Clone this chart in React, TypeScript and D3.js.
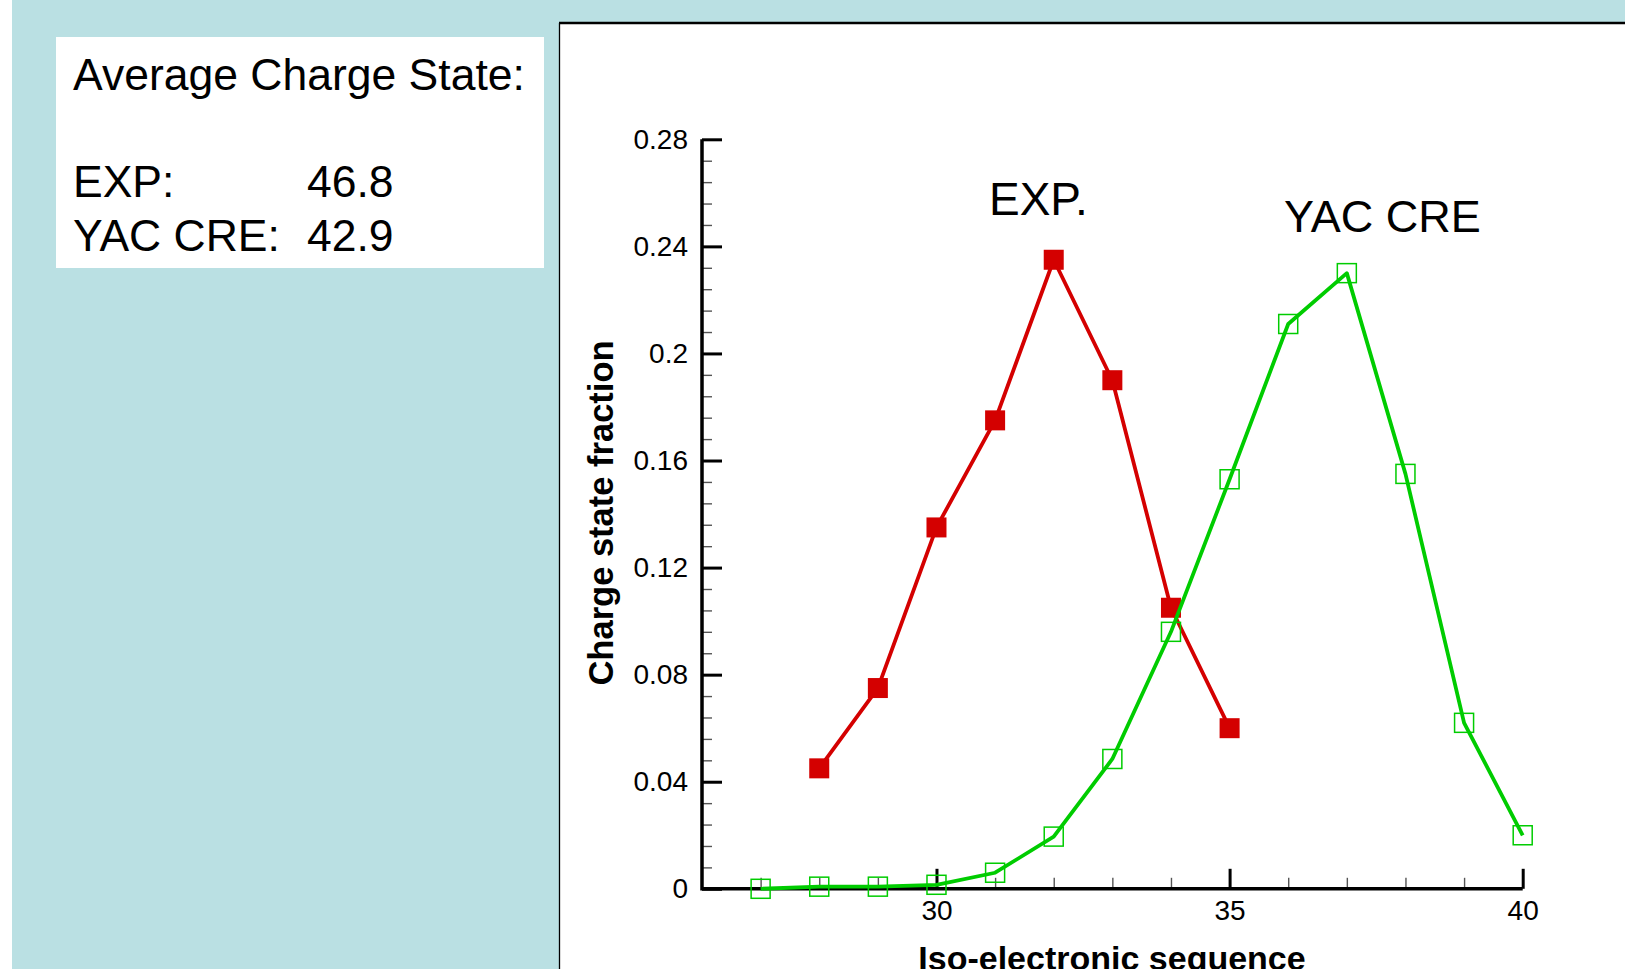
import React, { useEffect, useRef } from "react";
import * as d3 from "d3";

// charge state data
const expCharge = [28, 29, 30, 31, 32, 33, 34, 35];
const expFraction = [0.045, 0.075, 0.135, 0.175, 0.235, 0.19, 0.105, 0.06];

const yacCharge = [27, 28, 29, 30, 31, 32, 33, 34, 35, 36, 37, 38, 39, 40];
const yacFraction = [0, 0.0008, 0.0008, 0.0015, 0.006, 0.0195, 0.0485, 0.096, 0.153, 0.211, 0.23, 0.155, 0.062, 0.02];

const yMajorTicks = [0, 0.04, 0.08, 0.12, 0.16, 0.2, 0.24, 0.28];
const yTickLabels = ["0", "0.04", "0.08", "0.12", "0.16", "0.2", "0.24", "0.28"];
const xMajorTicks = [30, 35, 40];
const xMinorTicks = [27, 28, 29, 31, 32, 33, 34, 36, 37, 38, 39];

const summaryLines = [
  { label: "Average Charge State:", value: "" },
  { label: "EXP:", value: "46.8" },
  { label: "YAC CRE:", value: "42.9" },
];

const FONT = "'Liberation Sans', Arial, Helvetica, sans-serif";

export default function App() {
  const ref = useRef<SVGSVGElement | null>(null);

  useEffect(() => {
    const svg = d3.select(ref.current);
    svg.selectAll("*").remove();

    const W = 1625, H = 969;

    // page background
    svg.append("rect").attr("width", W).attr("height", H).attr("fill", "#ffffff");
    svg.append("rect").attr("x", 12).attr("width", W - 12).attr("height", H).attr("fill", "#bae0e3");

    // summary box
    svg.append("rect").attr("x", 56).attr("y", 37).attr("width", 488).attr("height", 231).attr("fill", "#ffffff");
    const baselines = [90, 197, 251];
    summaryLines.forEach((d, i) => {
      svg.append("text")
        .attr("x", 73).attr("y", baselines[i])
        .attr("font-family", FONT).attr("font-size", 44.5)
        .attr("fill", "#000").text(d.label);
      if (d.value) {
        svg.append("text")
          .attr("x", 307).attr("y", baselines[i])
          .attr("font-family", FONT).attr("font-size", 44.5)
          .attr("fill", "#000").text(d.value);
      }
    });

    // plot frame
    svg.append("rect").attr("x", 559).attr("y", 23).attr("width", W).attr("height", H)
      .attr("fill", "#ffffff").attr("stroke", "none");
    svg.append("line").attr("x1", 559).attr("x2", W).attr("y1", 23).attr("y2", 23)
      .attr("stroke", "#000").attr("stroke-width", 2.5);
    svg.append("line").attr("x1", 559.5).attr("x2", 559.5).attr("y1", 23).attr("y2", H)
      .attr("stroke", "#000").attr("stroke-width", 1.3);

    const x = d3.scaleLinear().domain([26, 40]).range([702, 1522.7]);
    const y = d3.scaleLinear().domain([0, 0.28]).range([888.8, 139.3]);

    const g = svg.append("g");

    // y minor ticks
    g.append("g")
      .attr("transform", `translate(${x(26)},0)`)
      .call(d3.axisLeft(y).tickValues(d3.range(0, 0.2801, 0.008)).tickSize(-10).tickFormat(() => ""))
      .call(a => a.select(".domain").remove())
      .call(a => a.selectAll("line").attr("stroke", "#555").attr("stroke-width", 1.4));

    // x minor ticks
    g.append("g")
      .attr("transform", `translate(0,${y(0)})`)
      .call(d3.axisBottom(x).tickValues(xMinorTicks).tickSize(-11).tickFormat(() => ""))
      .call(a => a.select(".domain").remove())
      .call(a => a.selectAll("line").attr("stroke", "#555").attr("stroke-width", 1.4));

    // y major
    g.append("g")
      .attr("transform", `translate(${x(26)},0)`)
      .call(d3.axisLeft(y).tickValues(yMajorTicks).tickSize(-20).tickPadding(14)
        .tickFormat((d, i) => yTickLabels[i]))
      .call(a => a.select(".domain").remove())
      .call(a => a.selectAll("line").attr("stroke", "#000").attr("stroke-width", 3))
      .call(a => a.selectAll("text").attr("font-family", FONT).attr("font-size", 28).attr("fill", "#000"));

    // x major
    g.append("g")
      .attr("transform", `translate(0,${y(0)})`)
      .call(d3.axisBottom(x).tickValues(xMajorTicks).tickSize(-20).tickPadding(11)
        .tickFormat(d3.format("d")))
      .call(a => a.select(".domain").remove())
      .call(a => a.selectAll("line").attr("stroke", "#000").attr("stroke-width", 3))
      .call(a => a.selectAll("text").attr("font-family", FONT).attr("font-size", 28).attr("fill", "#000"));

    // axis lines
    g.append("path")
      .attr("d", `M${x(26)},${y(0.28)}V${y(0)}H${x(40)}`)
      .attr("fill", "none").attr("stroke", "#000").attr("stroke-width", 3.5)
      .attr("stroke-linejoin", "miter");

    // axis titles
    svg.append("text")
      .attr("transform", `translate(613,513) rotate(-90)`)
      .attr("text-anchor", "middle")
      .attr("font-family", FONT).attr("font-weight", "bold").attr("font-size", 34.5)
      .text("Charge state fraction");
    svg.append("text")
      .attr("x", 1112).attr("y", 970)
      .attr("text-anchor", "middle")
      .attr("font-family", FONT).attr("font-weight", "bold").attr("font-size", 34)
      .text("Iso-electronic sequence");

    const line = d3.line<[number, number]>().x(d => x(d[0])).y(d => y(d[1]));

    // EXP series
    const expPts: [number, number][] = expCharge.map((c, i) => [c, expFraction[i]]);
    g.append("path").attr("d", line(expPts)).attr("fill", "none")
      .attr("stroke", "#d40000").attr("stroke-width", 3.8).attr("stroke-linejoin", "round");
    g.selectAll(".exp").data(expPts).join("rect")
      .attr("x", d => x(d[0]) - 10).attr("y", d => y(d[1]) - 10)
      .attr("width", 20).attr("height", 20).attr("fill", "#d40000");

    // YAC CRE series
    const yacPts: [number, number][] = yacCharge.map((c, i) => [c, yacFraction[i]]);
    g.append("path").attr("d", line(yacPts)).attr("fill", "none")
      .attr("stroke", "#00cc00").attr("stroke-width", 3.8).attr("stroke-linejoin", "round");
    g.selectAll(".yac").data(yacPts).join("rect")
      .attr("x", d => x(d[0]) - 9.5).attr("y", d => y(d[1]) - 9.5)
      .attr("width", 19).attr("height", 19).attr("fill", "none")
      .attr("stroke", "#00cc00").attr("stroke-width", 1.5);

    // series labels
    svg.append("text").attr("x", 989).attr("y", 215)
      .attr("font-family", FONT).attr("font-size", 46).text("EXP.");
    svg.append("text").attr("x", 1284).attr("y", 232)
      .attr("font-family", FONT).attr("font-size", 45).text("YAC CRE");
  }, []);

  return (
    <svg ref={ref} width={1625} height={969}
      style={{ position: "absolute", left: 0, top: 0, display: "block" }} />
  );
}
